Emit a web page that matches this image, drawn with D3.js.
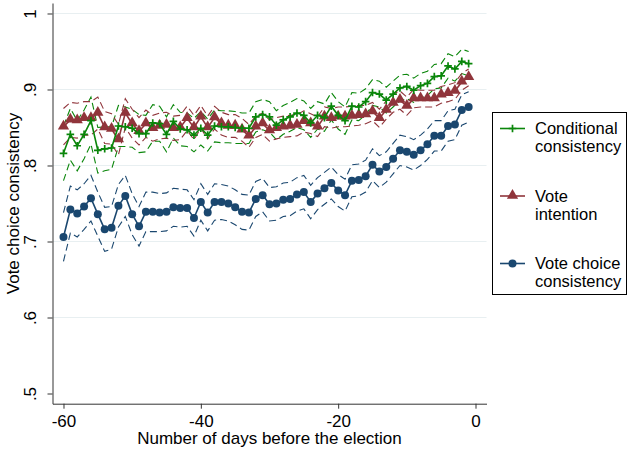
<!DOCTYPE html>
<html>
<head>
<meta charset="utf-8">
<script src="https://cdn.jsdelivr.net/npm/d3@7"></script>
<style>
  body { margin: 0; background: #fff; }
  svg { display: block; font-family: 'Liberation Sans', Arial, sans-serif; }
</style>
</head>
<body>
<svg id="chart"></svg>
<script>
// days before the election
const days = [-60, -59, -58, -57, -56, -55, -54, -53, -52, -51, -50, -49, -48, -47, -46, -45, -44, -43, -42, -41,
  -40, -39, -38, -37, -36, -35, -34, -33, -32, -31, -30, -29, -28, -27, -26, -25, -24, -23, -22, -21,
  -20, -19, -18, -17, -16, -15, -14, -13, -12, -11, -10, -9, -8, -7, -6, -5, -4, -3, -2, -1];

// conditional consistency (green)
const condValues = [.816, .841, .826, .841, .859, .820, .822, .823, .852, .851, .849, .842, .842, .856, .855, .841, .858, .848, .847, .840,
  .849, .840, .852, .851, .851, .850, .849, .849, .864, .867, .864, .853, .860, .864, .869, .866, .856, .866, .863, .878,
  .866, .859, .878, .877, .884, .896, .894, .886, .894, .902, .904, .899, .905, .908, .917, .918, .931, .927, .937, .934];
const condUpper = [.852, .875, .859, .873, .890, .850, .851, .851, .879, .877, .874, .867, .866, .880, .878, .864, .880, .870, .869, .862,
  .871, .861, .873, .872, .872, .871, .869, .869, .884, .887, .884, .872, .879, .883, .888, .885, .875, .884, .881, .896,
  .884, .877, .896, .895, .901, .913, .911, .903, .911, .919, .920, .915, .921, .924, .933, .934, .947, .943, .953, .950];
const condLower = [.780, .807, .793, .809, .828, .790, .793, .795, .825, .825, .824, .817, .818, .832, .832, .818, .836, .826, .825, .818,
  .827, .819, .831, .830, .830, .829, .829, .829, .844, .847, .844, .834, .841, .845, .850, .847, .837, .848, .845, .860,
  .848, .841, .860, .859, .867, .879, .877, .869, .877, .885, .888, .883, .889, .892, .901, .902, .915, .911, .921, .918];

// vote intention (maroon)
const intentValues = [.851, .860, .859, .862, .862, .869, .850, .848, .834, .869, .855, .845, .855, .849, .852, .853, .849, .850, .862, .850,
  .864, .850, .863, .855, .852, .852, .847, .839, .851, .855, .846, .849, .851, .852, .853, .858, .855, .851, .864, .862,
  .864, .864, .865, .866, .867, .871, .862, .873, .882, .886, .878, .888, .888, .888, .888, .893, .895, .898, .910, .916];
const intentUpper = [.875, .883, .882, .884, .884, .890, .871, .868, .854, .888, .874, .863, .873, .866, .869, .870, .865, .866, .878, .866,
  .879, .865, .878, .870, .867, .867, .862, .854, .865, .869, .860, .863, .865, .866, .867, .872, .868, .864, .877, .875,
  .877, .877, .878, .879, .879, .883, .874, .885, .894, .898, .890, .900, .899, .899, .899, .904, .906, .909, .921, .927];
const intentLower = [.827, .837, .836, .840, .840, .848, .829, .828, .814, .850, .836, .827, .837, .832, .835, .836, .833, .834, .846, .834,
  .849, .835, .848, .840, .837, .837, .832, .824, .837, .841, .832, .835, .837, .838, .839, .844, .842, .838, .851, .849,
  .851, .851, .852, .853, .855, .859, .850, .861, .870, .874, .866, .876, .877, .877, .877, .882, .884, .887, .899, .905];

// vote choice consistency (navy)
const choiceValues = [.706, .742, .737, .746, .757, .736, .716, .718, .747, .760, .736, .720, .739, .739, .738, .739, .745, .744, .744, .731,
  .752, .738, .752, .752, .750, .745, .739, .738, .756, .761, .749, .750, .755, .756, .762, .765, .752, .763, .770, .777,
  .767, .761, .780, .781, .786, .801, .792, .798, .809, .820, .818, .814, .820, .828, .839, .839, .852, .854, .873, .877];
const choiceUpper = [.738, .773, .768, .776, .787, .765, .745, .746, .775, .787, .763, .746, .765, .765, .763, .764, .770, .769, .768, .755,
  .776, .762, .776, .775, .773, .768, .762, .761, .779, .783, .771, .772, .777, .778, .784, .787, .774, .784, .791, .798,
  .788, .782, .801, .802, .807, .822, .813, .818, .829, .840, .838, .834, .840, .848, .859, .859, .872, .874, .893, .897];
const choiceLower = [.674, .711, .706, .716, .727, .707, .687, .690, .719, .733, .709, .694, .713, .713, .713, .714, .720, .719, .720, .707,
  .728, .714, .728, .729, .727, .722, .716, .715, .733, .739, .727, .728, .733, .734, .740, .743, .730, .742, .749, .756,
  .746, .740, .759, .760, .765, .780, .771, .778, .789, .800, .798, .794, .800, .808, .819, .819, .832, .834, .853, .857];

// axis ticks and labels
const xTicks = [-60, -40, -20, 0];
const yTicks = [0.5, 0.6, 0.7, 0.8, 0.9, 1];
const yTickLabels = ['.5', '.6', '.7', '.8', '.9', '1'];
const yGrid = [0.6, 0.7, 0.8, 0.9, 1];
const legendLabels = [['Conditional', 'consistency'], ['Vote', 'intention'], ['Vote choice', 'consistency']];

function drawChart() {
  var chart = d3.select('#chart')
    .attr('width', 633)
    .attr('height', 453);

  const green = '#0a860a';
  const maroon = '#90353b';
  const navy = '#1a476f';

  const x = d3.scaleLinear().domain([-61.6, 1.6]).range([52.5, 486.5]);
  const y = d3.scaleLinear().domain([0.4866, 1.0138]).range([403.7, 3]);

  // gridlines
  chart.append('g').selectAll('line')
    .data(yGrid).enter()
    .append('line')
    .attr('x1', 53).attr('x2', 486.5)
    .attr('y1', d => y(d)).attr('y2', d => y(d))
    .attr('stroke', '#e8eff1')
    .attr('stroke-width', 1.2);

  // axes (plain hyphen for negatives, like the original)
  const xAxis = chart.append('g')
    .attr('transform', 'translate(0,403.7)')
    .call(d3.axisBottom(x).tickValues(xTicks).tickFormat(d => String(d)).tickSize(5).tickSizeOuter(0).tickPadding(6));
  xAxis.selectAll('text')
    .style('font-size', '17px')
    .attr('fill', '#000');

  const yAxis = chart.append('g')
    .attr('transform', 'translate(52.5,0)')
    .call(d3.axisLeft(y).tickValues(yTicks).tickFormat((d, i) => yTickLabels[i]).tickSize(5).tickSizeOuter(0));
  yAxis.selectAll('text')
    .attr('transform', 'rotate(-90)')
    .attr('x', 0)
    .attr('y', -16.5)
    .attr('dy', 0)
    .attr('text-anchor', 'middle')
    .style('font-size', '17px')
    .attr('fill', '#000');
  chart.selectAll('.domain, .tick line').attr('stroke', '#333');

  // axis titles
  chart.append('text')
    .attr('x', 269.5).attr('y', 444)
    .attr('text-anchor', 'middle')
    .style('font-size', '17px')
    .text('Number of days before the election');
  chart.append('text')
    .attr('transform', 'translate(19,203.5) rotate(-90)')
    .attr('text-anchor', 'middle')
    .style('font-size', '17px')
    .text('Vote choice consistency');

  const series = [
    { name: 'cond', color: green, values: condValues, upper: condUpper, lower: condLower, marker: 'plus' },
    { name: 'intent', color: maroon, values: intentValues, upper: intentUpper, lower: intentLower, marker: 'triangle' },
    { name: 'choice', color: navy, values: choiceValues, upper: choiceUpper, lower: choiceLower, marker: 'circle' }
  ];

  const line = d3.line()
    .x(d => x(d[0]))
    .y(d => y(d[1]));

  // dashed confidence bands
  series.forEach(s => {
    [s.upper, s.lower].forEach(band => {
      chart.append('path')
        .attr('d', line(days.map((d, i) => [d, band[i]])))
        .attr('fill', 'none')
        .attr('stroke', s.color)
        .attr('stroke-width', 1.1)
        .attr('stroke-dasharray', '7,4');
    });
  });

  const tri = d3.symbol().type(d3.symbolTriangle).size(55);

  function drawMarker(g, type, color) {
    if (type === 'plus') {
      g.append('path')
        .attr('d', 'M-3.8,0 H3.8 M0,-3.8 V3.8')
        .attr('stroke', color)
        .attr('stroke-width', 1.7);
    } else if (type === 'triangle') {
      g.append('path')
        .attr('d', tri())
        .attr('transform', 'translate(0,-0.6)')
        .attr('fill', color);
    } else {
      g.append('circle')
        .attr('r', 4)
        .attr('fill', color);
    }
  }

  // main lines with markers, drawn maroon, green, navy
  [series[1], series[0], series[2]].forEach(s => {
    chart.append('path')
      .attr('d', line(days.map((d, i) => [d, s.values[i]])))
      .attr('fill', 'none')
      .attr('stroke', s.color)
      .attr('stroke-width', 1.6);
    chart.append('g').selectAll('g')
      .data(days.map((d, i) => [d, s.values[i]])).enter()
      .append('g')
      .attr('transform', d => `translate(${x(d[0])},${y(d[1])})`)
      .each(function () { drawMarker(d3.select(this), s.marker, s.color); });
  });

  // legend
  const legend = chart.append('g');
  legend.append('rect')
    .attr('x', 492.5).attr('y', 112.5)
    .attr('width', 134).attr('height', 182)
    .attr('fill', '#fff')
    .attr('stroke', '#000')
    .attr('stroke-width', 1);

  series.forEach((s, i) => {
    const ly = 128.5 + i * 67.5;
    legend.append('line')
      .attr('x1', 500).attr('x2', 525)
      .attr('y1', ly).attr('y2', ly)
      .attr('stroke', s.color)
      .attr('stroke-width', 1.6);
    const m = legend.append('g').attr('transform', `translate(512.5,${ly})`);
    drawMarker(m, s.marker, s.color);
    legend.append('text')
      .attr('x', 535).attr('y', ly + 5.5)
      .style('font-size', '16.5px')
      .text(legendLabels[i][0]);
    legend.append('text')
      .attr('x', 535).attr('y', ly + 23.5)
      .style('font-size', '16.5px')
      .text(legendLabels[i][1]);
  });
}

drawChart();
</script>
</body>
</html>
